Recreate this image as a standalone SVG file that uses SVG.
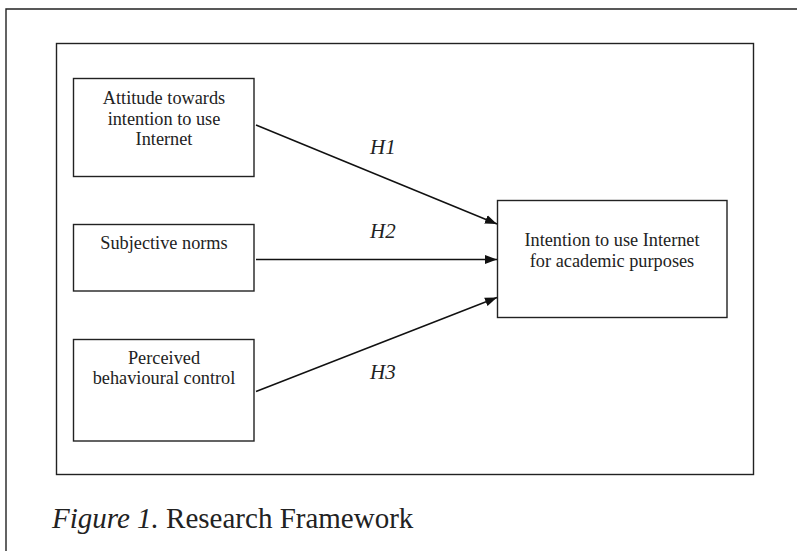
<svg xmlns="http://www.w3.org/2000/svg" width="797" height="551" viewBox="0 0 797 551">
<defs>
<style>
.frame{fill:none;stroke:#222;stroke-width:1.4}
.box{fill:#fff;stroke:#222;stroke-width:1.4}
.lbl{font-family:"Liberation Serif","Times New Roman",serif;font-size:18.3px;fill:#222;text-anchor:middle}
.h{font-family:"Liberation Serif","Times New Roman",serif;font-size:21px;font-style:italic;fill:#222}
.edge{stroke:#111;stroke-width:1.5;fill:none;marker-end:url(#arr)}
.cap{font-family:"Liberation Serif","Times New Roman",serif;font-size:29px;fill:#222}
</style>
<marker id="arr" viewBox="0 0 12 10" refX="12" refY="5" markerWidth="12" markerHeight="10" markerUnits="userSpaceOnUse" orient="auto">
<path d="M0,0.5 L12,5 L0,9.5 Z" fill="#111"/>
</marker>
</defs>
<rect width="797" height="551" fill="#fff"/>
<path class="frame" d="M6,560 L6,9 L805,9"/>
<rect class="frame" x="56.5" y="43.5" width="697" height="431"/>
<g id="attitude">
<rect class="box" x="73.5" y="78.5" width="180.5" height="98"/>
<text class="lbl" x="164" y="104">Attitude towards</text>
<text class="lbl" x="164" y="124.5">intention to use</text>
<text class="lbl" x="164" y="145">Internet</text>
</g>
<g id="norms">
<rect class="box" x="73.5" y="224.5" width="180.5" height="66.5"/>
<text class="lbl" x="164" y="248.5">Subjective norms</text>
</g>
<g id="control">
<rect class="box" x="73.5" y="339.5" width="180.5" height="101.5"/>
<text class="lbl" x="164" y="363.5">Perceived</text>
<text class="lbl" x="164" y="384">behavioural control</text>
</g>
<g id="intention">
<rect class="box" x="497.5" y="200.5" width="229.5" height="117"/>
<text class="lbl" x="612" y="246">Intention to use Internet</text>
<text class="lbl" x="612" y="266.5">for academic purposes</text>
</g>
<g id="connectors">
<line class="edge" x1="256" y1="125" x2="497" y2="224"/>
<line class="edge" x1="256" y1="259.5" x2="497" y2="259.5"/>
<line class="edge" x1="256" y1="391.5" x2="497" y2="297.5"/>
<text class="h" x="370" y="154">H1</text>
<text class="h" x="370" y="238">H2</text>
<text class="h" x="370" y="379">H3</text>
</g>
<text class="cap" x="52" y="528"><tspan font-style="italic">Figure 1.</tspan> Research Framework</text>
</svg>
